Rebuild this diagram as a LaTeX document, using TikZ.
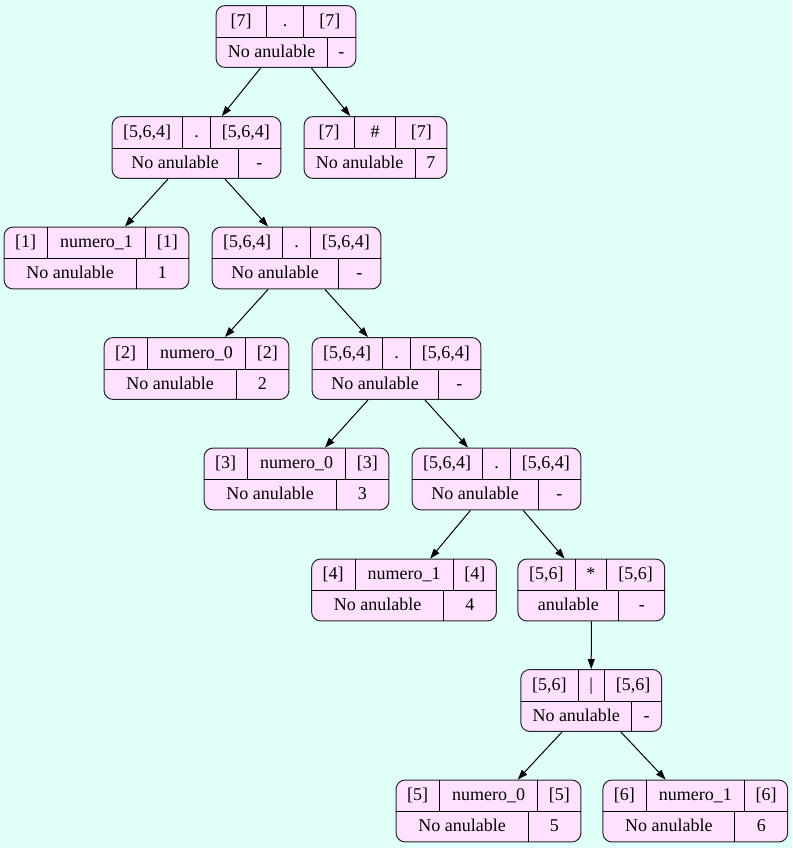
\documentclass[tikz,border=0pt]{standalone}
\usepackage{fontspec}
\setmainfont{Liberation Serif}
\usepackage{array}
\usetikzlibrary{arrows.meta}

\definecolor{bgcyan}{HTML}{E0FFF8}
\definecolor{recpink}{HTML}{FFE0FF}

\newcolumntype{C}[1]{>{\centering\arraybackslash}p{#1pt}}
\setlength{\tabcolsep}{0pt}
\setlength{\arrayrulewidth}{0.9pt}
\newcommand{\toprow}[6]{\begin{tabular}{@{}C{#1}|C{#2}|C{#3}@{}}\rule[-10.5pt]{0pt}{31pt}#4 & #5 & #6\end{tabular}}
\newcommand{\botrow}[4]{\begin{tabular}{@{}C{#1}|C{#2}@{}}\rule[-10pt]{0pt}{30pt}#3 & #4\end{tabular}}
\newcommand{\rec}[2]{\begin{tabular}{@{}c@{}}#1\\\hline #2\end{tabular}}
% leaf for a symbol, inner node for concatenation
\newcommand{\numrec}[2]{\rec{\toprow{43}{97}{43}{[#1]}{numero\_#2}{[#1]}}{\botrow{131}{52}{No anulable}{#1}}}
\newcommand{\catrec}{\rec{\toprow{70}{27}{70}{[5,6,4]}{.}{[5,6,4]}}{\botrow{125}{42}{No anulable}{-}}}

\begin{document}
\begin{tikzpicture}[x=1pt, y=-1pt,
    rec/.style={draw=black!85, line width=1pt, fill=recpink, rounded corners=9pt,
                inner sep=0pt, font=\fontsize{18}{22}\selectfont},
    link/.style={draw=black, line width=1pt, -{Triangle[length=10pt,width=7pt]}}]

    \fill[bgcyan] (0,0) rectangle (792,848);

    \node[rec] (root) at (286,36.5) {\rec{\toprow{50}{36}{52}{[7]}{.}{[7]}}{\botrow{110}{28}{No anulable}{-}}};
    \node[rec] (cat1) at (196.5,147.5) {\catrec};
    \node[rec] (fin)  at (375.5,147.5) {\rec{\toprow{50}{40}{51}{[7]}{\#}{[7]}}{\botrow{110}{31}{No anulable}{7}}};
    \node[rec] (num1) at (96.5,258) {\numrec{1}{1}};
    \node[rec] (cat2) at (296.5,258) {\catrec};
    \node[rec] (num2) at (196.5,368.5) {\numrec{2}{0}};
    \node[rec] (cat3) at (396.5,368.5) {\catrec};
    \node[rec] (num3) at (296.5,479) {\numrec{3}{0}};
    \node[rec] (cat4) at (496.5,479) {\catrec};
    \node[rec] (num4) at (404,590) {\numrec{4}{1}};
    \node[rec] (star) at (591.3,590) {\rec{\toprow{57}{30}{58}{[5,6]}{*}{[5,6]}}{\botrow{100}{45}{anulable}{-}}};
    \node[rec] (alt)  at (591.2,700.5) {\rec{\toprow{57}{25}{57}{[5,6]}{|}{[5,6]}}{\botrow{110}{29}{No anulable}{-}}};
    \node[rec] (num5) at (488.5,811) {\numrec{5}{0}};
    \node[rec] (num6) at (695.3,811) {\numrec{6}{1}};

    \draw[link] (root) -- (cat1);
    \draw[link] (root) -- (fin);
    \draw[link] (cat1) -- (num1);
    \draw[link] (cat1) -- (cat2);
    \draw[link] (cat2) -- (num2);
    \draw[link] (cat2) -- (cat3);
    \draw[link] (cat3) -- (num3);
    \draw[link] (cat3) -- (cat4);
    \draw[link] (cat4) -- (num4);
    \draw[link] (cat4) -- (star);
    \draw[link] (star) -- (alt);
    \draw[link] (alt) -- (num5);
    \draw[link] (alt) -- (num6);
\end{tikzpicture}
\end{document}
